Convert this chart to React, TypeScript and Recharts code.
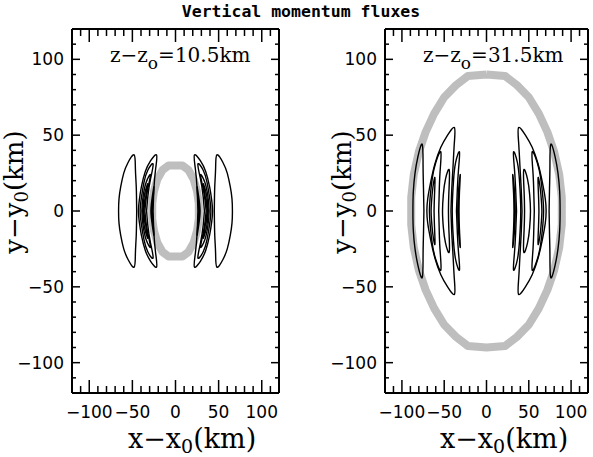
import React from "react";
import { LineChart, Line, XAxis, YAxis } from "recharts";

type P = [number, number];

// axis ticks (km)
const allTicks = [-110, -100, -90, -80, -70, -60, -50, -40, -30, -20, -10, 0, 10, 20, 30, 40, 50, 60, 70, 80, 90, 100, 110];
const majorTicks = [-100, -50, 0, 50, 100];

const title = "Vertical momentum fluxes";
const heights = ["10.5", "31.5"];

// grey ring, right half, top to bottom (x, y in km)
const ringLow: P[] = [[0, 30], [8, 30], [15, 27], [21, 21], [25, 13], [27, 5], [27, -5], [25, -13], [21, -21], [15, -27], [8, -30], [0, -30]];
const ringHigh: P[] = [[0, 90], [22, 89], [36, 83], [50, 75], [62, 64], [72, 52], [80, 39], [86, 24], [89, 9], [89, -9], [86, -24], [80, -39], [72, -52], [62, -64], [50, -75], [36, -83], [22, -89], [0, -90]];

// contours of the right-hand lobe, z-z0 = 10.5 km: [outer edge, inner edge], each tip to tip
const lowArcs: [P[], P[]][] = [
  [[[48, 37], [55, 32], [60, 25], [63.5, 16], [65.5, 8], [66, 0], [65.5, -8], [63.5, -16], [60, -25], [55, -32], [48, -37]],
   [[48, 37], [46.5, 28], [45.5, 16], [45, 0], [45.5, -16], [46.5, -28], [48, -37]]],
  [[[22, 37], [29, 33], [35, 26], [39.5, 16], [42, 7], [43, 0], [42, -7], [39.5, -16], [35, -26], [29, -33], [22, -37]],
   [[22, 37], [23, 28], [25, 15], [26, 0], [25, -15], [23, -28], [22, -37]]],
  [[[26, 31], [32, 27], [36.5, 19], [39.5, 9], [41, 0], [39.5, -9], [36.5, -19], [32, -27], [26, -31]],
   [[26, 31], [29, 21], [32, 10], [33.5, 0], [32, -10], [29, -21], [26, -31]]],
  [[[29, 24], [34, 19], [37.5, 10], [39, 0], [37.5, -10], [34, -19], [29, -24]],
   [[29, 24], [32, 15], [34.5, 6], [35.5, 0], [34.5, -6], [32, -15], [29, -24]]],
  [[[32, 18], [35.5, 12], [37.5, 4], [38, 0], [37.5, -4], [35.5, -12], [32, -18]],
   [[32, 18], [34, 11], [36, 4], [36.5, 0], [36, -4], [34, -11], [32, -18]]],
  [[[25, 16], [27, 9], [28.5, 0], [27, -9], [25, -16]],
   [[25, 16], [26, 8], [27, 0], [26, -8], [25, -16]]],
];

// contours of the right-hand lobe, z-z0 = 31.5 km
const highArcs: [P[], P[]][] = [
  [[[76, 44], [81, 36], [84.5, 25], [86.5, 13], [87, 0], [86.5, -13], [84.5, -25], [81, -36], [76, -44]],
   [[76, 44], [75, 30], [74.5, 15], [74, 0], [74.5, -15], [75, -30], [76, -44]]],
  [[[38, 55], [46, 50], [54, 42], [61, 31], [66, 19], [69.5, 8], [70.5, 0], [69.5, -8], [66, -19], [61, -31], [54, -42], [46, -50], [38, -55]],
   [[38, 55], [38, 45], [39.5, 30], [41, 15], [42, 0], [41, -15], [39.5, -30], [38, -45], [38, -55]]],
  [[[32, 39], [36.5, 32], [39, 20], [40.2, 8], [40.5, 0], [40.2, -8], [39, -20], [36.5, -32], [32, -39]],
   [[32, 39], [33, 28], [34.5, 14], [35.5, 0], [34.5, -14], [33, -28], [32, -39]]],
  [[[54, 39], [60, 32], [64, 22], [66.5, 10], [67.5, 0], [66.5, -10], [64, -22], [60, -32], [54, -39]],
   [[54, 39], [55, 25], [56, 10], [56.5, 0], [56, -10], [55, -25], [54, -39]]],
  [[[44, 27], [48.5, 21], [51, 11], [52, 0], [51, -11], [48.5, -21], [44, -27]],
   [[44, 27], [44.5, 12], [45, 0], [44.5, -12], [44, -27]]],
  [[[61, 22], [63.5, 15], [65, 6], [65.5, 0], [65, -6], [63.5, -15], [61, -22]],
   [[61, 22], [61.5, 10], [62, 0], [61.5, -10], [61, -22]]],
  [[[31, 24], [33, 14], [34, 0], [33, -14], [31, -24]],
   [[31, 24], [32, 12], [32.5, 0], [32, -12], [31, -24]]],
];

const toRows = (pts: P[]) => pts.map(([x, y]) => ({ x, y }));
const mirror = (pts: P[]) => pts.map(([x, y]) => [-x, y] as P);
const fullRing = (half: P[]) => [...half, ...mirror(half).reverse()];
// closed loop starting mid-way up the inner edge so both tips come out rounded
const loop = (outer: P[], inner: P[]): P[] => {
  const m = Math.floor(inner.length / 2);
  return [...inner.slice(0, m + 1).reverse(), ...outer.slice(1), ...inner.slice(m, inner.length - 1).reverse()];
};

const W = 593;
const H = 457;
const labelFont = "'DejaVu Sans', sans-serif";
const serif = "'DejaVu Serif', serif";
const fmt = (v: number) => (v < 0 ? "\u2212" + Math.abs(v) : String(v));

function XTick(props: any) {
  const { x, y, payload, side } = props;
  const major = majorTicks.includes(payload.value);
  const len = major ? 13 : 7;
  const dir = side === "bottom" ? -1 : 1;
  return (
    <g>
      <line x1={x} y1={y} x2={x} y2={y + dir * len} stroke="#000" strokeWidth={1.5} />
      {major && side === "bottom" && (
        <text x={x} y={y + 25} textAnchor="middle" fontFamily={labelFont} fontSize={17} fill="#000">
          {fmt(payload.value)}
        </text>
      )}
    </g>
  );
}

function YTick(props: any) {
  const { x, y, payload, side } = props;
  const major = majorTicks.includes(payload.value);
  const len = major ? 8 : 4;
  const dir = side === "left" ? 1 : -1;
  return (
    <g>
      <line x1={x} y1={y} x2={x + dir * len} y2={y} stroke="#000" strokeWidth={1.5} />
      {major && side === "left" && (
        <text x={x - 8} y={y + 6} textAnchor="end" fontFamily={labelFont} fontSize={17} fill="#000">
          {fmt(payload.value)}
        </text>
      )}
    </g>
  );
}

function Panel({ left, right, arcs, ring, height, annX, xTitleX, yTitleX, showTitle }: any) {
  const lines: P[][] = [];
  arcs.forEach(([outer, inner]: [P[], P[]]) => {
    lines.push(loop(outer, inner), loop(mirror(outer), mirror(inner)));
  });
  const axisLine = { stroke: "#000", strokeWidth: 2 };
  return (
    <div style={{ position: "absolute", left: 0, top: 0 }}>
      <LineChart width={W} height={H} margin={{ top: 28, bottom: 63, left: left - 1, right: right - 1 }}>
        <XAxis xAxisId="b" type="number" dataKey="x" domain={[-120, 120]} allowDataOverflow ticks={allTicks} interval={0}
          height={1} tickSize={0} tickMargin={0} tickLine={false} axisLine={axisLine} tick={<XTick side="bottom" />} />
        <XAxis xAxisId="t" orientation="top" type="number" dataKey="x" domain={[-120, 120]} allowDataOverflow ticks={allTicks} interval={0}
          height={1} tickSize={0} tickMargin={0} tickLine={false} axisLine={axisLine} tick={<XTick side="top" />} />
        <YAxis yAxisId="l" type="number" dataKey="y" domain={[-120, 120]} allowDataOverflow ticks={allTicks} interval={0}
          width={1} tickSize={0} tickMargin={0} tickLine={false} axisLine={axisLine} tick={<YTick side="left" />} />
        <YAxis yAxisId="r" orientation="right" type="number" dataKey="y" domain={[-120, 120]} allowDataOverflow ticks={allTicks} interval={0}
          width={1} tickSize={0} tickMargin={0} tickLine={false} axisLine={axisLine} tick={<YTick side="right" />} />
        <Line xAxisId="b" yAxisId="l" data={toRows(fullRing(ring))} dataKey="y" type="linear" stroke="#bebebe"
          strokeWidth={8} strokeLinejoin="round" dot={false} isAnimationActive={false} />
        {lines.map((pts, i) => (
          <Line key={i} xAxisId="b" yAxisId="l" data={toRows(pts)} dataKey="y" type="natural" stroke="#000"
            strokeWidth={1.4} dot={false} isAnimationActive={false} />
        ))}
        {showTitle && (
          <text x={301} y={17} textAnchor="middle" fontFamily="'DejaVu Sans Mono', monospace" fontWeight="bold" fontSize={16.5}>
            {title}
          </text>
        )}
        <text x={annX} y={62} fontFamily={serif} fontSize={20}>
          z{"\u2212"}z<tspan dy={7} fontSize={17}>o</tspan><tspan dy={-7}>={height}km</tspan>
        </text>
        <text x={xTitleX} y={448} fontFamily={serif} fontSize={27}>
          x{"\u2212"}x<tspan dy={5} fontSize={19}>0</tspan><tspan dy={-5}>(km)</tspan>
        </text>
        <text x={yTitleX} y={192} textAnchor="middle" fontFamily={serif} fontSize={26}
          transform={`rotate(-90 ${yTitleX} 192)`}>
          y{"\u2212"}y<tspan dy={5} fontSize={18}>0</tspan><tspan dy={-5}>(km)</tspan>
        </text>
      </LineChart>
    </div>
  );
}

export default function App() {
  return (
    <div style={{ position: "fixed", left: 0, top: 0, width: W, height: H, background: "#fff" }}>
      <Panel left={72} right={W - 279} arcs={lowArcs} ring={ringLow} height={heights[0]} annX={110} xTitleX={128} yTitleX={23} showTitle />
      <Panel left={385} right={W - 588} arcs={highArcs} ring={ringHigh} height={heights[1]} annX={423} xTitleX={440} yTitleX={351} />
    </div>
  );
}
